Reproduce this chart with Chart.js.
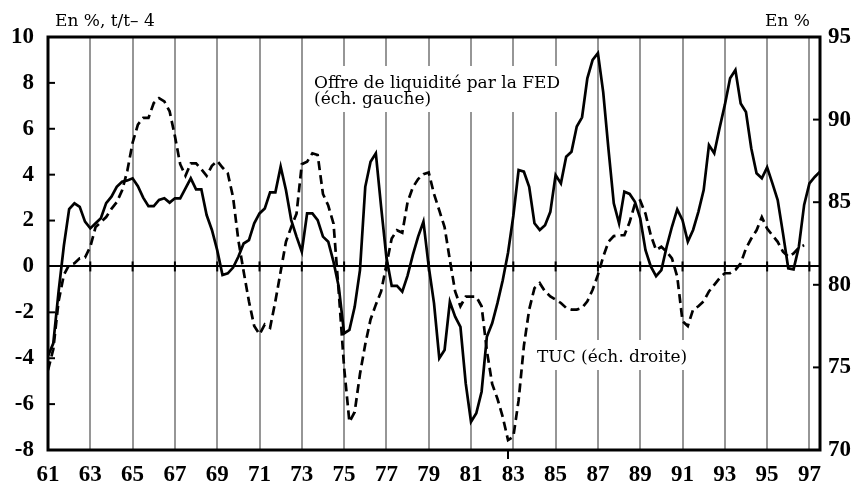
<!DOCTYPE html>
<html><head><meta charset="utf-8">
<script src="https://cdn.jsdelivr.net/npm/chart.js@4/dist/chart.umd.min.js"></script>
<style>html,body{margin:0;padding:0;background:#fff}#wrap{width:860px;height:488px;position:relative}</style>
</head><body><div id="wrap"><canvas id="c" width="860" height="488"></canvas></div>
<script>
// ---- DATA (quarterly, 1961 T1 onward) ----
const firstYear = 61;
const xTickYears = [61,63,65,67,69,71,73,75,77,79,81,83,85,87,89,91,93,95,97];
const leftTickValues = [-8,-6,-4,-2,0,2,4,6,8,10];
const rightTickValues = [70,75,80,85,90,95];

// Offre de liquidité par la FED (en %, t/t-4), échelle gauche
const fedLiquidity = [
  -3.9,-3.35,-1.1,0.9,   2.5,2.75,2.6,1.95,   1.66,1.88,2.1,2.76,   3.04,3.47,3.69,3.75,
  3.84,3.5,3.0,2.63,     2.63,2.9,2.97,2.78,  2.97,2.97,3.4,3.84,   3.36,3.36,2.24,1.59,
  0.71,-0.37,-0.3,-0.05, 0.42,1.0,1.15,1.88,  2.31,2.53,3.23,3.23,  4.35,3.33,2.02,1.3,
  0.64,2.31,2.31,2.02,   1.3,1.08,0.2,-0.9,   -2.92,-2.77,-1.76,-0.16, 3.47,4.56,4.93,2.6,
  0.4,-0.85,-0.85,-1.1,  -0.4,0.5,1.3,1.95,   0.0,-1.6,-4.0,-3.64,  -1.54,-2.19,-2.63,-5.1,
  -6.77,-6.4,-5.46,-3.06, -2.48,-1.6,-0.6,0.6, 2.2,4.2,4.13,3.47,  1.88,1.59,1.8,2.38,
  3.98,3.62,4.78,5.0,    6.1,6.5,8.2,9.0,     9.3,7.6,5.1,2.75,     1.88,3.26,3.16,2.82,
  2.1,0.71,0.0,-0.42,    -0.16,0.86,1.73,2.49, 2.02,1.08,1.59,2.38,  3.33,5.29,4.93,6.02,
  7.04,8.2,8.56,7.1,     6.73,5.15,4.06,3.84, 4.32,3.62,2.89,1.44,  -0.08,-0.13,0.86,2.68,
  3.62,3.9,4.13
];

// TUC (taux d'utilisation des capacités, en %), échelle droite
const tuc = [
  74.84,76.1,79.0,80.6,  81.2,81.3,81.6,81.65, 82.3,83.5,83.8,84.1, 84.6,85.0,85.7,86.9,
  88.6,89.7,90.1,90.1,   91.0,91.3,91.1,90.5,  89.0,87.3,86.6,87.35, 87.35,87.0,86.6,87.2,
  87.5,87.1,86.75,85.3,  82.7,80.8,79.0,77.5,  77.0,77.6,77.4,79.0, 80.8,82.6,83.5,84.3,
  87.3,87.45,87.96,87.86, 85.5,84.8,83.7,79.5, 75.0,71.7,72.3,74.6, 76.4,77.9,78.8,79.6,
  81.2,82.8,83.3,83.15,  85.0,85.9,86.4,86.7,  86.8,85.5,84.5,83.5, 81.5,79.6,78.7,79.28,
  79.28,79.28,78.7,76.0, 74.0,73.1,72.0,70.6,  70.8,73.0,76.3,78.5, 79.8,80.1,79.6,79.3,
  79.1,78.9,78.6,78.5,   78.5,78.6,79.0,79.7,  80.6,81.7,82.6,82.95, 83.0,83.0,83.8,84.9,
  85.1,84.3,83.0,82.1,   82.3,82.0,81.6,80.5,  77.8,77.5,78.5,78.7, 79.0,79.6,80.0,80.4,
  80.7,80.7,80.9,81.3,   82.2,82.8,83.3,84.1,  83.4,83.0,82.6,82.0, 81.7,81.9,82.25,82.4
];

const texts = {
  leftUnit: 'En %, t/t\u2013 4',
  rightUnit: 'En %',
  fed: ['Offre de liquidit\u00e9 par la FED', '(\u00e9ch. gauche)'],
  tuc: 'TUC (\u00e9ch. droite)'
};

// ---- helpers ----
const toPoints = arr => arr.map((v, i) => ({ x: firstYear + i / 4, y: v }));
const tickFont = { family: 'Liberation Serif', size: 23, weight: 'bold' };
const labelFont = '17px "DejaVu Serif"';

const decor = {
  id: 'decor',
  beforeDatasetsDraw(chart) {
    const { ctx, scales } = chart;
    const xs = scales.x, ys = scales.y;
    ctx.save();
    // white boxes behind the series labels
    ctx.fillStyle = '#fff';
    ctx.fillRect(306, 66, 262, 46);
    ctx.fillRect(528, 340, 170, 30);
    // labels
    ctx.fillStyle = '#000';
    ctx.font = labelFont;
    ctx.textAlign = 'left';
    ctx.textBaseline = 'alphabetic';
    ctx.fillText(texts.fed[0], 314, 88);
    ctx.fillText(texts.fed[1], 314, 104);
    ctx.fillText(texts.tuc, 537, 362);
    // tick marks on the zero line
    const y0 = ys.getPixelForValue(0);
    ctx.strokeStyle = '#000';
    ctx.lineWidth = 2;
    xTickYears.forEach(yr => {
      if (yr <= xs.min || yr >= xs.max) return;
      const x = xs.getPixelForValue(yr);
      ctx.beginPath(); ctx.moveTo(x, y0 - 5); ctx.lineTo(x, y0 + 5); ctx.stroke();
    });
    ctx.restore();
  },
  afterDatasetsDraw(chart) {
    const { ctx, chartArea: a, scales } = chart;
    const xs = scales.x, ys = scales.y, y2 = scales.y2;
    ctx.save();
    ctx.strokeStyle = '#000';
    ctx.lineWidth = 2;
    leftTickValues.forEach(v => {
      if (v <= ys.min || v >= ys.max || v === 0) return;
      const y = ys.getPixelForValue(v);
      ctx.beginPath(); ctx.moveTo(a.left, y); ctx.lineTo(a.left + 7, y); ctx.stroke();
    });
    rightTickValues.forEach(v => {
      if (v <= y2.min || v >= y2.max) return;
      const y = y2.getPixelForValue(v);
      ctx.beginPath(); ctx.moveTo(a.right - 7, y); ctx.lineTo(a.right, y); ctx.stroke();
    });
    // stray tick under the axis near 1983
    const xt = xs.getPixelForValue(82.75);
    ctx.beginPath(); ctx.moveTo(xt, a.bottom); ctx.lineTo(xt, a.bottom + 9); ctx.stroke();
    // frame
    ctx.lineWidth = 3;
    ctx.strokeRect(a.left, a.top, a.right - a.left, a.bottom - a.top);
    // unit labels
    ctx.fillStyle = '#000';
    ctx.font = labelFont;
    ctx.textBaseline = 'alphabetic';
    ctx.textAlign = 'left';
    ctx.fillText(texts.leftUnit, 55, 26);
    ctx.textAlign = 'right';
    ctx.fillText(texts.rightUnit, 810, 26);
    ctx.restore();
  }
};

new Chart(document.getElementById('c'), {
  type: 'line',
  data: {
    datasets: [
      { label: 'Offre de liquidité par la FED', data: toPoints(fedLiquidity), yAxisID: 'y',
        borderColor: '#000', borderWidth: 2.7, pointRadius: 0, tension: 0, fill: false },
      { label: 'TUC', data: toPoints(tuc), yAxisID: 'y2',
        borderColor: '#000', borderWidth: 2.7, borderDash: [9, 5], pointRadius: 0, tension: 0, fill: false }
    ]
  },
  options: {
    responsive: false,
    animation: false,
    devicePixelRatio: 1,
    layout: { padding: { top: 37, left: 0, right: 0, bottom: 0 } },
    plugins: { legend: { display: false }, tooltip: { enabled: false }, title: { display: false } },
    scales: {
      x: {
        type: 'linear', min: 61, max: 97.5,
        afterBuildTicks: s => { s.ticks = xTickYears.map(v => ({ value: v })); },
        afterFit: s => { s.height = 38; },
        ticks: { autoSkip: false, maxRotation: 0, padding: 11, color: '#000', font: tickFont,
                 callback: v => String(v) },
        grid: { drawTicks: false, lineWidth: 2,
                color: c => (c.tick && c.tick.value > 61 && c.tick.value < 97.5) ? '#969696' : 'rgba(0,0,0,0)' },
        border: { display: false }
      },
      y: {
        position: 'left', min: -8, max: 10,
        afterBuildTicks: s => { s.ticks = leftTickValues.map(v => ({ value: v })); },
        afterFit: s => { s.width = 48; },
        ticks: { padding: 14, color: '#000', font: tickFont },
        grid: { drawTicks: false, lineWidth: 2,
                color: c => (c.tick && c.tick.value === 0) ? '#000' : 'rgba(0,0,0,0)' },
        border: { display: false }
      },
      y2: {
        position: 'right', min: 70, max: 95,
        afterBuildTicks: s => { s.ticks = rightTickValues.map(v => ({ value: v })); },
        afterFit: s => { s.width = 40; },
        ticks: { padding: 8, color: '#000', font: tickFont },
        grid: { display: false, drawTicks: false },
        border: { display: false }
      }
    }
  },
  plugins: [decor]
});
</script>
</body></html>
